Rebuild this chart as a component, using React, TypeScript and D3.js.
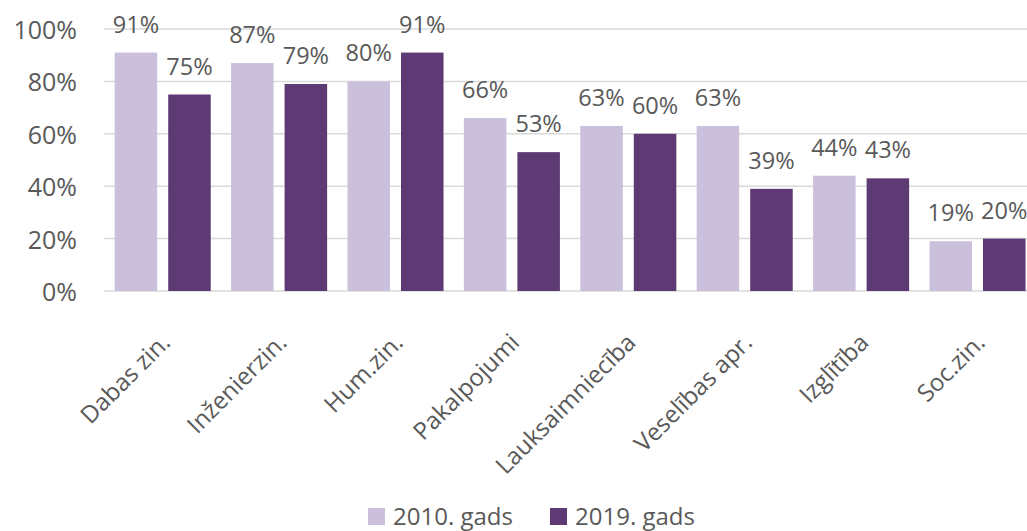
import * as d3 from 'd3'

const CATEGORIES = ['Dabas zin.', 'Inženierzin.', 'Hum.zin.', 'Pakalpojumi', 'Lauksaimniecība', 'Veselības apr.', 'Izglītība', 'Soc.zin.']
const SERIES = ['2010. gads', '2019. gads']
const VALUES_2010 = [0.91, 0.87, 0.80, 0.66, 0.63, 0.63, 0.44, 0.19]
const VALUES_2019 = [0.75, 0.79, 0.91, 0.53, 0.60, 0.39, 0.43, 0.20]
const Y_TICKS = [0, 0.2, 0.4, 0.6, 0.8, 1.0]

const COLORS = ['#CAC0DB', '#5E3A74']
const TEXT = '#595959'
const FONT = '"Open Sans", sans-serif'

export default function App() {
  const width = 1027
  const height = 531
  const left = 104.5
  const step = 116.4
  const baseY = 291
  const topY = 29

  const x = d3.scaleBand<string>()
    .domain(CATEGORIES)
    .range([left, left + step * CATEGORIES.length])
    .padding(0)

  // two bars per category
  const xInner = d3.scaleBand<string>()
    .domain(SERIES)
    .range([0, x.bandwidth()])
    .paddingInner(0.2056)
    .paddingOuter(0.19)

  const y = d3.scaleLinear().domain([0, 1]).range([baseY, topY])

  const series = [VALUES_2010, VALUES_2019]
  const pct = d3.format('.0%')

  return (
    <svg width={width} height={height} style={{ position: 'absolute', left: 0, top: 0 }} fontFamily={FONT}>
      {/* grid */}
      {Y_TICKS.map(t => (
        <line key={t} x1={left} x2={width} y1={y(t)} y2={y(t)} stroke="#D9D9D9" strokeWidth={1.5} />
      ))}
      {Y_TICKS.map(t => (
        <text key={'l' + t} x={77} y={y(t) + 10} textAnchor="end" fontSize={25} fill={TEXT}>
          {pct(t)}
        </text>
      ))}

      {/* bars + value labels */}
      {CATEGORIES.map((c, i) => (
        <g key={c} transform={`translate(${x(c)},0)`}>
          {SERIES.map((s, j) => {
            const v = series[j][i]
            const bx = xInner(s)!
            return (
              <g key={s}>
                <rect x={bx} y={y(v)} width={xInner.bandwidth()} height={baseY - y(v)} fill={COLORS[j]} />
                <text
                  x={bx + xInner.bandwidth() / 2}
                  y={y(v) - 20}
                  textAnchor="middle"
                  fontSize={23.5}
                  fill={TEXT}
                >
                  {pct(v)}
                </text>
              </g>
            )
          })}
        </g>
      ))}

      {/* category labels */}
      {CATEGORIES.map(c => {
        const cx = x(c)! + x.bandwidth() / 2
        return (
          <text
            key={'c' + c}
            transform={`translate(${cx + 9},${baseY + 53}) rotate(-45)`}
            textAnchor="end"
            fontSize={24}
            fill={TEXT}
          >
            {c}
          </text>
        )
      })}

      {/* legend */}
      {SERIES.map((s, j) => {
        const lx = j === 0 ? 368 : 550
        return (
          <g key={'lg' + s} transform={`translate(${lx},508)`}>
            <rect width={17} height={17} fill={COLORS[j]} />
            <text x={25} y={17} fontSize={24} fill={TEXT}>{s}</text>
          </g>
        )
      })}
    </svg>
  )
}
